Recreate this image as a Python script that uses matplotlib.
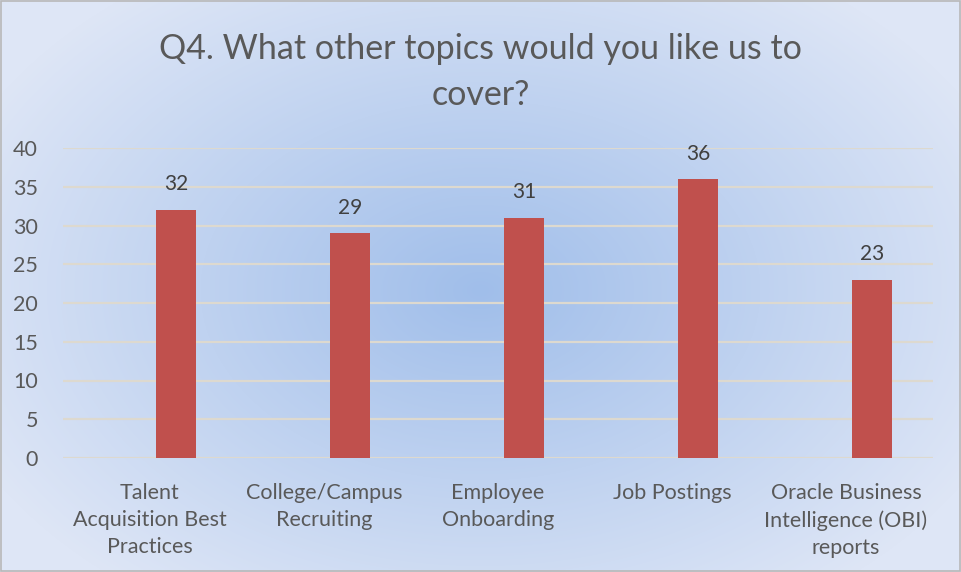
import numpy as np
import matplotlib
matplotlib.use("Agg")
from matplotlib import pyplot as plt
from matplotlib.patches import Rectangle

categories = ["Talent\nAcquisition Best\nPractices", "College/Campus\nRecruiting",
              "Employee\nOnboarding", "Job Postings",
              "Oracle Business\nIntelligence (OBI)\nreports"]
values = [32, 29, 31, 36, 23]
yticks = [0, 5, 10, 15, 20, 25, 30, 35, 40]
title = "Q4. What other topics would you like us to\ncover?"

plt.rcParams['font.family'] = ['Lato', 'DejaVu Sans']

fig = plt.figure(figsize=(9.61, 5.72), dpi=100)

# radial gradient background
bg = fig.add_axes([0, 0, 1, 1], zorder=-10)
w, h = 961, 572
yy, xx = np.mgrid[0:h, 0:w]
r = np.sqrt(((xx - 480) / 560.0) ** 2 + ((yy - 290) / 380.0) ** 2)
r = np.clip(r, 0, 1)
inner = np.array([160, 190, 234]) / 255.0
outer = np.array([222, 230, 246]) / 255.0
img = inner[None, None, :] * (1 - r[..., None]) + outer[None, None, :] * r[..., None]
bg.imshow(img, aspect='auto', extent=[0, 1, 0, 1])
bg.set_xlim(0, 1)
bg.set_ylim(0, 1)
bg.axis('off')
bg.add_patch(Rectangle((0.001, 0.002), 0.998, 0.996, fill=False, edgecolor='#b8b8b8', lw=1.2))

ax = fig.add_axes([63 / 961, 1 - 458 / 572, 870 / 961, 310 / 572])
ax.patch.set_alpha(0)
x = np.arange(len(values))
# bars sit a bit right of the category centre in the original
xb = x + 0.152
bars = ax.bar(xb, values, width=0.23, color='#c0504d', zorder=3)
for xi, v in zip(xb, values):
    ax.text(xi, v + 2.0, str(v), ha='center', va='bottom', fontsize=15, color='#404040')

ax.set_xlim(-0.5, 4.5)
ax.set_ylim(0, 40)
ax.set_yticks(yticks)
ax.set_xticks(x)
ax.set_xticklabels(categories, fontsize=15.5, color='#595959', linespacing=1.45)
ax.tick_params(axis='y', labelsize=15.5, labelcolor='#595959', length=0, pad=18)
ax.tick_params(axis='x', length=0, pad=18)
for s in ax.spines.values():
    s.set_visible(False)
ax.grid(axis='y', color='#ddd9cf', lw=1.6, zorder=0)
ax.set_axisbelow(True)

fig.text(0.5, 1 - 72 / 572, title, ha='center', va='center', fontsize=24.5,
         color='#595959', linespacing=1.55)

fig.savefig("out.png", dpi=100)
